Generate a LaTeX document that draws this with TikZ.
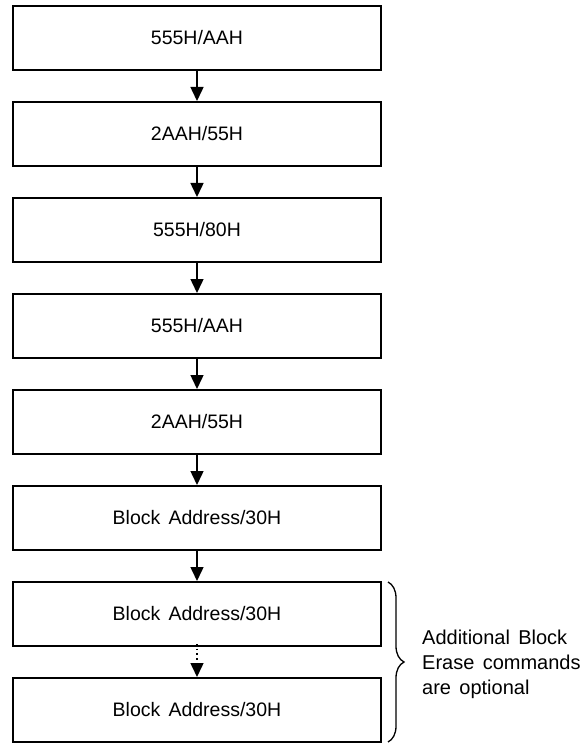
\documentclass[tikz,border=0pt]{standalone}
\usepackage{fontspec}
\setmainfont{Liberation Sans}[WordSpace=1.5]
\usetikzlibrary{arrows.meta,decorations.pathreplacing}
\begin{document}
\begin{tikzpicture}[x=1pt,y=-1pt,
  stepbox/.style={draw=black,line width=2pt,fill=white,minimum width=368pt,minimum height=64pt,inner sep=0pt,font=\fontsize{19.5}{23}\selectfont},
  arr/.style={line width=1.5pt,-{Triangle[length=14pt,width=13pt]}},
  dotarr/.style={line width=1.5pt,dash pattern=on 1.5pt off 3.2pt,-{Triangle[length=14pt,width=13pt]}},
  note/.style={anchor=west,align=left,inner sep=0pt,font=\fontsize{20}{25}\selectfont}]
\useasboundingbox (0,0) rectangle (585,743);
\node[stepbox] (b1) at (197,38) {555H/AAH};
\node[stepbox] (b2) at (197,134) {2AAH/55H};
\node[stepbox] (b3) at (197,230) {555H/80H};
\node[stepbox] (b4) at (197,326) {555H/AAH};
\node[stepbox] (b5) at (197,422) {2AAH/55H};
\node[stepbox] (b6) at (197,518) {Block Address/30H};
\node[stepbox] (b7) at (197,614) {Block Address/30H};
\node[stepbox] (b8) at (197,710) {Block Address/30H};
\draw[arr] (b1) -- (b2);
\draw[arr] (b2) -- (b3);
\draw[arr] (b3) -- (b4);
\draw[arr] (b4) -- (b5);
\draw[arr] (b5) -- (b6);
\draw[arr] (b6) -- (b7);
\draw[dotarr] ([yshift=3pt]b7.south) -- (b8.north);
\coordinate (bt) at (388,582);
\coordinate (bb) at (388,742);
\draw[line width=1.3pt,decorate,decoration={brace,amplitude=16pt}] (bt) -- (bb);
\node[note] (n) at (422,664) {Additional Block\\Erase commands\\are optional};
\end{tikzpicture}
\end{document}
